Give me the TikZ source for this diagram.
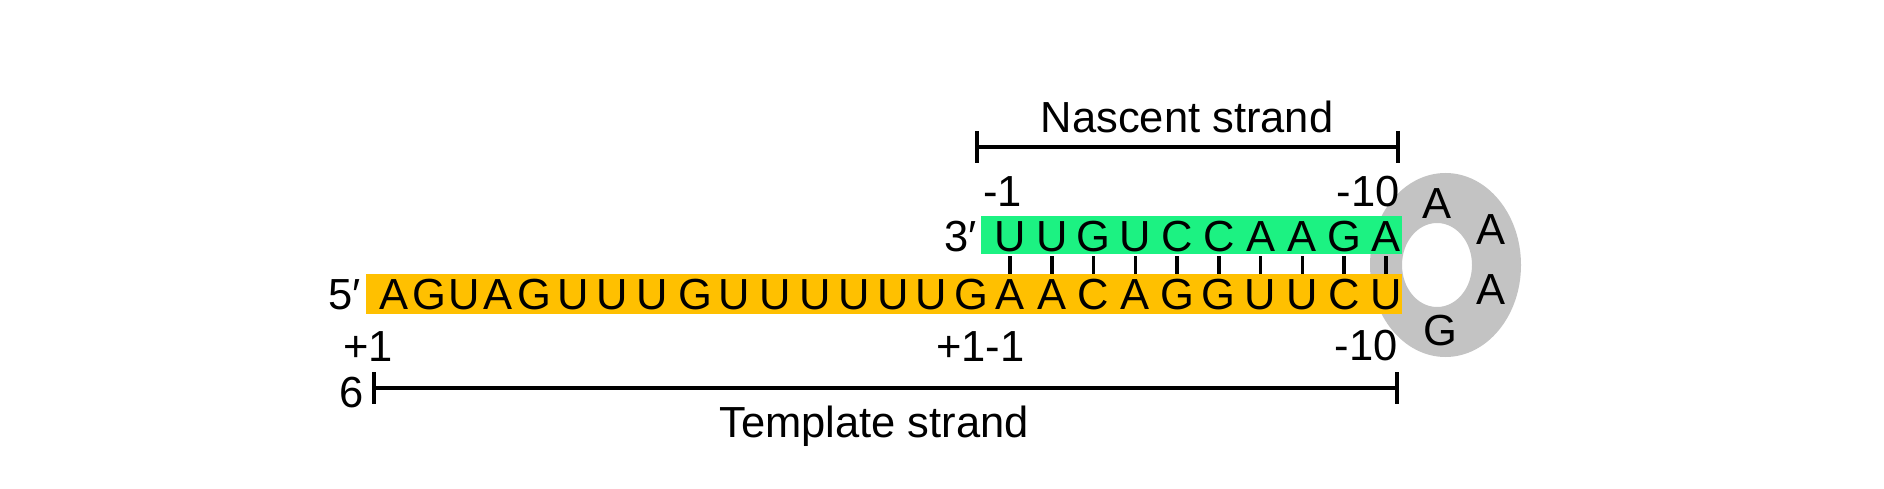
\documentclass[tikz,border=0pt]{standalone}
\usepackage{fontspec}
\setmainfont{Liberation Sans}
\definecolor{tmplorange}{HTML}{FFC000}
\definecolor{nascgreen}{HTML}{1CF282}
\definecolor{loopgray}{HTML}{C3C3C3}
\begin{document}
\begin{tikzpicture}[x=1pt,y=-1pt,
  letter/.style={inner sep=0pt, anchor=base, font=\fontsize{43.5}{52}\selectfont},
  lbl/.style={inner sep=0pt, font=\fontsize{43.5}{52}\selectfont},
  pairtick/.style={line width=3.5pt},
  bracket/.style={line width=3.1pt}]
\useasboundingbox (0,0) rectangle (1884,489);
% hairpin loop ring
\fill[loopgray, even odd rule] (1445.5,265) ellipse [x radius=75.5, y radius=92]
  (1437,265) ellipse [x radius=35, y radius=42];
% strands
\fill[tmplorange] (366,274) rectangle (1402,313.5);
\fill[nascgreen] (981,216) rectangle (1402,254);
% template letters
\foreach \ch/\xx [count=\i] in {A/394,G/429,U/464,A/498,G/534,U/573,U/612,U/652,G/695,U/734,U/775,U/815,U/854,U/893,U/931,G/971}
  \node[letter] (t\i) at (\xx,309.5) {\ch};
\foreach \ch [count=\k, evaluate=\k as \i using int(\k+16)] in {A,A,C,A,G,G,U,U,C,U}
  \node[letter] (t\i) at ({1010+41.75*(\k-1)},309.5) {\ch};
% nascent letters
\foreach \ch [count=\i] in {U,U,G,U,C,C,A,A,G,A}
  \node[letter] (n\i) at ({1010+41.75*(\i-1)},251.5) {\ch};
% base-pair ticks
\foreach \i [evaluate=\i as \j using int(\i+16)] in {1,...,10}
  \draw[pairtick] ([yshift=-4.5pt]n\i.base) -- ([yshift=36pt]t\j.base);
% loop letters
\node[letter] (l1) at (1437,218.5) {A};
\node[letter] (l2) at (1491,244.5) {A};
\node[letter] (l3) at (1491,304.5) {A};
\node[letter] (l4) at (1440,345.5) {G};
% labels
\node[lbl, anchor=base east] (p5) at (361,309.5) {5′};
\node[lbl, anchor=base east] (p3) at (977,251.5) {3′};
\node[lbl, anchor=base west] (m1) at (983,207) {-1};
\node[lbl, anchor=base east] (m10a) at (1400,207) {-10};
\node[lbl, anchor=base west] (p1) at (343,361) {+1};
\node[lbl, anchor=base west] (p11) at (936,361) {+1-1};
\node[lbl, anchor=base east] (m10b) at (1398,360) {-10};
\node[lbl, anchor=base east] (six) at (364,407) {6};
\node[lbl, anchor=base] (nas) at (1187,133) {Nascent strand};
\node[lbl, anchor=base] (tmp) at (874,437) {Template strand};
% brackets
\coordinate (nL) at (977,147);
\coordinate (nR) at (1398,147);
\draw[bracket] (nL) -- (nR);
\draw[bracket] ([yshift=16pt]nL) -- ([yshift=-16pt]nL);
\draw[bracket] ([yshift=16pt]nR) -- ([yshift=-16pt]nR);
\coordinate (tL) at (374,388);
\coordinate (tR) at (1397,388);
\draw[bracket] (tL) -- (tR);
\draw[bracket] ([yshift=16pt]tL) -- ([yshift=-16pt]tL);
\draw[bracket] ([yshift=16pt]tR) -- ([yshift=-16pt]tR);
\end{tikzpicture}
\end{document}
